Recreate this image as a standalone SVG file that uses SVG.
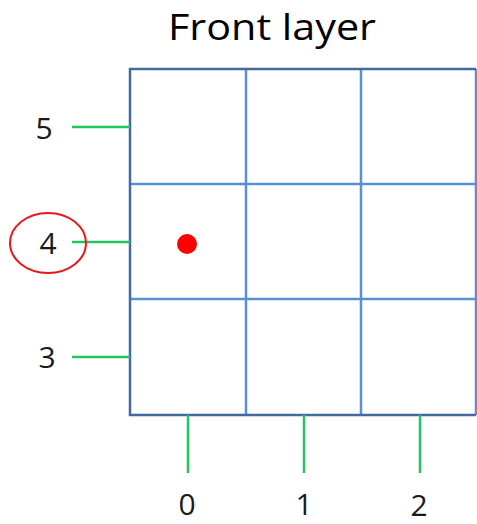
<svg xmlns="http://www.w3.org/2000/svg" width="477" height="524" viewBox="0 0 477 524">
<style>
.lbl{font-family:"Open Sans","Liberation Sans",sans-serif;font-size:30px;fill:#1a1a1a;text-anchor:middle}
.tick{stroke:#22c55e;stroke-width:2.5;fill:none}
.inner{stroke:#5a8fd2;stroke-width:2.5;fill:none}
.outer{stroke:#44699e;stroke-width:2.5;fill:none}
</style>
<rect width="477" height="524" fill="#ffffff"/>
<text x="272" y="40" font-family="Open Sans, Liberation Sans, sans-serif" font-size="37" fill="#000" text-anchor="middle" textLength="208" lengthAdjust="spacingAndGlyphs">Front layer</text>
<g id="grid">
<line class="inner" x1="246" y1="69" x2="246" y2="415"/>
<line class="inner" x1="361" y1="69" x2="361" y2="415"/>
<line class="inner" x1="130" y1="184" x2="476" y2="184"/>
<line class="inner" x1="130" y1="299" x2="476" y2="299"/>
<line class="inner" x1="476" y1="69" x2="476" y2="415"/>
<polyline class="outer" points="476,69 130,69 130,415 476,415"/>
</g>
<g id="connectors">
<line class="tick" x1="72" y1="127" x2="130" y2="127"/>
<line class="tick" x1="72" y1="242" x2="130" y2="242"/>
<line class="tick" x1="72" y1="357" x2="130" y2="357"/>
<line class="tick" x1="188" y1="415" x2="188" y2="473"/>
<line class="tick" x1="304" y1="415" x2="304" y2="473"/>
<line class="tick" x1="420" y1="415" x2="420" y2="473"/>
</g>
<g id="label-5"><text class="lbl" x="44" y="139">5</text></g>
<g id="label-4"><text class="lbl" x="48" y="254">4</text><ellipse cx="48" cy="243" rx="38" ry="30" fill="none" stroke="#e8191c" stroke-width="2"/></g>
<g id="label-3"><text class="lbl" x="47" y="368">3</text></g>
<g id="label-0"><text class="lbl" x="187" y="515">0</text></g>
<g id="label-1"><text class="lbl" x="304" y="515">1</text></g>
<g id="label-2"><text class="lbl" x="419" y="516">2</text></g>
<g id="point"><circle cx="187" cy="244" r="10" fill="#ff0000"/></g>
</svg>
